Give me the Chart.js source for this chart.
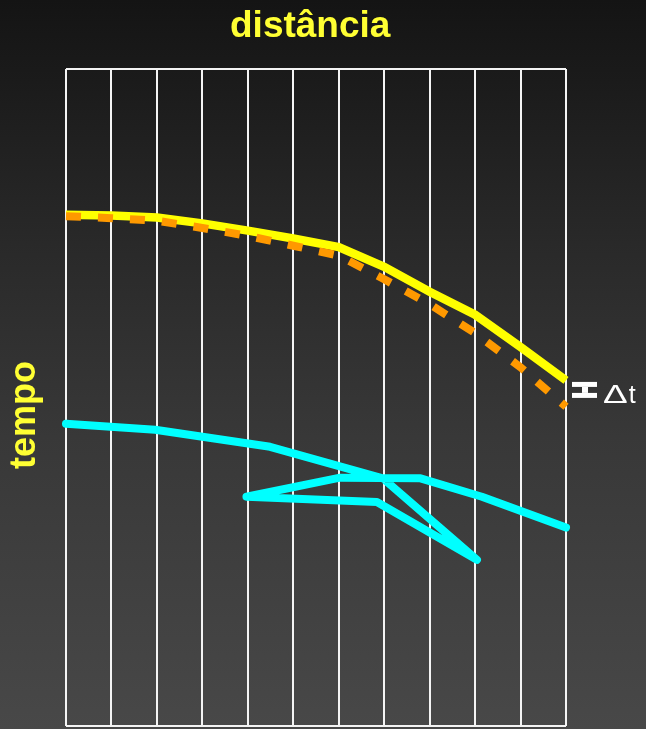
<!DOCTYPE html>
<html>
<head>
<meta charset="utf-8">
<script src="https://cdn.jsdelivr.net/npm/chart.js"></script>
<style>
  body { margin: 0; background: #141414; }
  #wrap {
    position: relative; width: 646px; height: 729px; overflow: hidden;
    background: linear-gradient(to bottom, #141414 0%, #2a2a2a 35%, #383838 60%, #484848 100%);
    font-family: "Liberation Sans", Arial, sans-serif;
  }
  #chart { position: absolute; left: 0; top: 0; }
  .lbl { position: absolute; white-space: nowrap; }
  #title { left: 230px; top: 5.7px; font-size: 37px; line-height: 37px; font-weight: bold; color: #ffff33; }
  #ylabel { left: 4.5px; top: 469px; font-size: 36px; line-height: 36px; font-weight: bold; color: #ffff33;
            transform-origin: 0 0; transform: rotate(-90deg); }
  #dt { left: 603px; top: 381.8px; font-size: 25px; line-height: 25px; color: #ffffff; }
  #dt .delta { display: inline-block; transform: scaleX(1.48); transform-origin: 0 0; margin-right: 9px; }
</style>
</head>
<body>
<div id="wrap">
  <canvas id="chart" width="646" height="729"></canvas>
  <div class="lbl" id="title">distância</div>
  <div class="lbl" id="ylabel">tempo</div>
  <div class="lbl" id="dt"><span class="delta">Δ</span>t</div>
</div>

<script>
// distance (grid column) and time values; time grows downward
const distX   = [0, 1, 2, 3, 4, 5, 6, 7, 8, 9, 10, 11];
const yellowT = [22.2, 22.3, 22.6, 23.5, 24.6, 25.8, 27.1, 30.1, 33.9, 37.4, 42.3, 47.4];
const orangeT = [22.4, 22.7, 23.1, 24.2, 25.4, 26.9, 28.4, 32.0, 35.8, 40.2, 45.4, 51.4];

// cyan path doubles back on itself
const cyanX = [0, 1.96, 4.49, 6.97, 9.04, 6.84, 3.97, 6.03, 7.80, 9.15, 11];
const cyanT = [54.0, 54.9, 57.5, 62.3, 74.7, 65.9, 65.1, 62.2, 62.3, 65.1, 69.8];

function pts(xs, ys) {
  return xs.map(function (x, i) { return { x: x, y: ys[i] }; });
}

// small bracket next to the end of the yellow curve
const bracket = {
  id: 'bracket',
  afterDraw: function (chart) {
    const ctx = chart.ctx;
    const xs = chart.scales.x, ys = chart.scales.y;
    const x0 = xs.getPixelForValue(11) + 6;
    const y0 = ys.getPixelForValue(yellowT[yellowT.length - 1]) + 1.5;
    ctx.save();
    ctx.fillStyle = '#ffffff';
    ctx.fillRect(x0, y0, 25, 5);
    ctx.fillRect(x0 + 10, y0 + 5, 6, 6);
    ctx.fillRect(x0, y0 + 11, 25, 5);
    ctx.restore();
  }
};

const ctx = document.getElementById('chart');

new Chart(ctx, {
  type: 'scatter',
  data: {
    datasets: [
      {
        label: 'orange',
        data: pts(distX, orangeT),
        showLine: true,
        borderColor: '#ff9900',
        borderWidth: 8,
        borderDash: [15, 17],
        pointRadius: 0,
        tension: 0,
        clip: false
      },
      {
        label: 'yellow',
        data: pts(distX, yellowT),
        showLine: true,
        borderColor: '#ffff00',
        borderWidth: 8.5,
        pointRadius: 0,
        tension: 0,
        clip: false
      },
      {
        label: 'cyan',
        data: pts(cyanX, cyanT),
        showLine: true,
        borderColor: '#00ffff',
        borderWidth: 8,
        borderCapStyle: 'round',
        borderJoinStyle: 'round',
        pointRadius: 0,
        tension: 0,
        clip: false
      }
    ]
  },
  options: {
    responsive: false,
    animation: false,
    layout: { padding: { left: 66, right: 80, top: 69, bottom: 3 } },
    plugins: {
      legend: { display: false },
      tooltip: { enabled: false }
    },
    scales: {
      x: {
        type: 'linear',
        min: 0, max: 11,
        ticks: { display: false, stepSize: 1 },
        grid: { color: '#f4f4f4', lineWidth: 2, drawTicks: false },
        border: { display: false }
      },
      y: {
        type: 'linear',
        reverse: true,
        min: 0, max: 100,
        ticks: { display: false, stepSize: 100 },
        grid: { color: '#f4f4f4', lineWidth: 2, drawTicks: false },
        border: { display: false }
      }
    }
  },
  plugins: [bracket]
});
</script>
</body>
</html>
